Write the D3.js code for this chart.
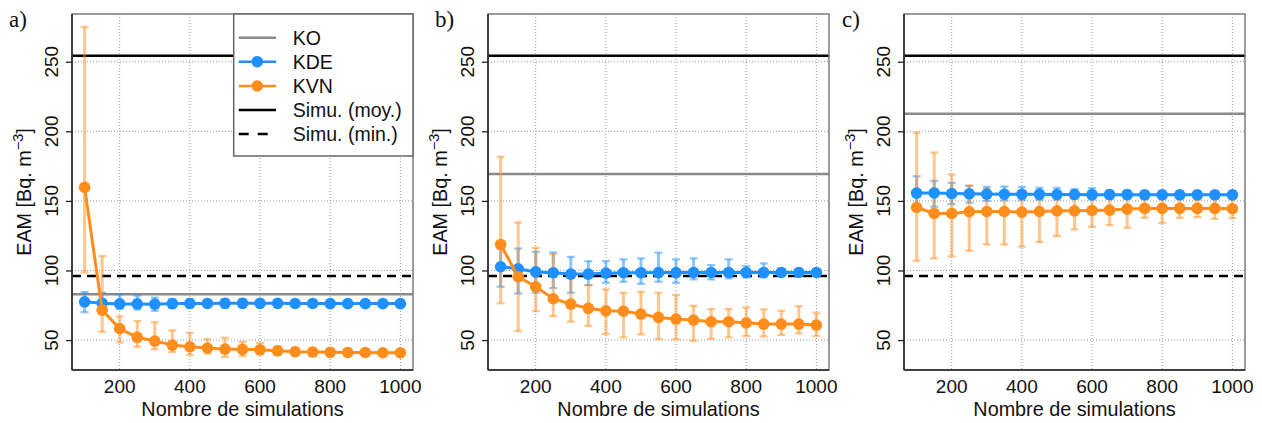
<!DOCTYPE html>
<html><head><meta charset="utf-8">
<script src="https://cdn.jsdelivr.net/npm/d3@7"></script>
<style>body{margin:0;background:#fff}svg{display:block}</style>
</head><body><div id="chart"></div>
<script>
// ---- data ----
const nSim = [100,150,200,250,300,350,400,450,500,550,600,650,700,750,800,850,900,950,1000];
const xTicks = [200,400,600,800,1000];
const yTicks = [50,100,150,200,250];
const simuMoy = 254.3;
const simuMin = 96;
const koValues = [83, 169.3, 212.6];

const kdeA   = [77.5,76.5,76,76,75.8,76.2,76.3,76.3,76.4,76.4,76.4,76.4,76.3,76.3,76.2,76.2,76.2,76.2,76.2];
const kdeAlo = [70,71,72.5,72,71,73,73.5,74,73.5,74,74,74,74.3,74.5,74.5,74.5,74.5,74.5,74.5];
const kdeAhi = [84.5,84,83,82,80.5,79.5,79.5,78.8,79.5,79.5,79,78.8,78.5,78.3,78,78,78,78,78];
const kvnA   = [159.7,71.5,58.2,52,49.3,46.4,45.2,44.3,43.5,43.3,43.1,42.3,41.6,41.4,41.2,41.1,41.1,40.9,40.9];
const kvnAlo = [98.6,56,48.3,45.2,43.4,41.4,39.3,40.3,37.9,38.4,39.6,39.5,39,39,38.8,39,39,38.8,38.8];
const kvnAhi = [275,110.3,67,63.7,62.8,57,55.3,50.7,51.7,48.8,48,45.5,44.5,44,43.8,43.5,43.5,43.2,43.2];

const kdeB   = [102.7,101.2,99,98.4,97.4,97.4,98.1,98.4,98.4,98.5,98.5,98.6,98.6,98.6,98.6,98.6,98.6,98.6,98.6];
const kdeBlo = [88.3,83.5,84,87.4,84,89.5,91.2,91.9,90.4,91.9,91.2,93.6,93.6,94.3,95,95,96,96.5,96.5];
const kdeBhi = [115.6,115.8,113.4,113,109.8,106.7,106.7,108,108.7,112.8,108,108.7,103.9,108,103.2,105.1,101.2,100.8,100.7];
const kvnB   = [118.7,95.5,88.3,79.7,75.9,72.8,71,70.8,68.7,66.3,65.1,64.4,63.2,63.2,62.4,61.5,61.5,61.5,60.8];
const kvnBlo = [76.4,56.5,70.8,67.2,63.2,60.3,54.3,51.9,54.1,50.7,50.5,49.5,50.9,51.9,52.9,52.6,53.6,54.8,52.9];
const kvnBhi = [181.7,134.5,116.3,111.8,97.9,89.5,86.4,84,84.7,84,82.3,74.6,72.3,72.3,73.4,72.1,71.1,74.4,69.6];

const kdeC   = [155.6,155.7,155.3,155.1,154.9,154.8,154.8,154.7,154.6,154.6,154.5,154.5,154.5,154.4,154.4,154.4,154.4,154.4,154.4];
const kdeClo = [143.5,145.8,147.7,148.7,149.9,150.4,150.5,150.8,150.8,151.5,151,151.5,151.5,151.8,151.8,152,152,152,152];
const kdeChi = [167.7,164.4,163,160.8,160.1,160.3,160,159.4,159.4,158.5,159.2,157.5,157.5,157.2,157.2,157,157,157,157];
const kvnC   = [145.3,141,141,142.2,142.4,142.4,142,142.4,142.9,142.9,143.1,143.4,144.1,144.6,144.6,144.6,144.6,144.6,144.4];
const kvnClo = [107,108.7,110.1,114.2,118.7,118.7,117.2,120.4,124.7,129.5,131.4,132.6,130.7,137.9,134.1,137.9,138.4,137.1,137.6];
const kvnChi = [199,184.8,169,161.1,158.8,156.6,153.4,155,155,153.4,153.8,152.5,152.5,151.3,152,151.3,150.8,151.5,151.2];

const panelLabels = ['a)','b)','c)'];
const legendLabels = ['KO','KDE','KVN','Simu. (moy.)','Simu. (min.)'];

// ---- layout ----
const W = 1262, H = 423;
const colBlue = '#1E90FF', colOrange = '#FF8D1C', colKO = '#8a8a8a';
const sans = '"Liberation Sans", Arial, Helvetica, sans-serif';
const serif = '"Liberation Serif", "Times New Roman", serif';
const panelLeft = [72, 488, 904];
const labelX = [9, 435, 842];
const pw = 341, plotTop = 14, plotBottom = 370;

const svg = d3.select('#chart').append('svg').attr('width', W).attr('height', H);

const panels = [
  {kde:kdeA, kdeLo:kdeAlo, kdeHi:kdeAhi, kvn:kvnA, kvnLo:kvnAlo, kvnHi:kvnAhi},
  {kde:kdeB, kdeLo:kdeBlo, kdeHi:kdeBhi, kvn:kvnB, kvnLo:kvnBlo, kvnHi:kvnBhi},
  {kde:kdeC, kdeLo:kdeClo, kdeHi:kdeChi, kvn:kvnC, kvnLo:kvnClo, kvnHi:kvnChi}
];

panels.forEach((p, i) => {
  const L = panelLeft[i], R = L + pw;
  const x = d3.scaleLinear().domain([64, 1036]).range([L, R]);
  const y = d3.scaleLinear().domain([28.5, 284.3]).range([plotBottom, plotTop]);
  const g = svg.append('g');

  // grid
  g.append('g').selectAll('line').data(xTicks).join('line')
    .attr('x1', d => x(d)).attr('x2', d => x(d)).attr('y1', plotTop).attr('y2', plotBottom)
    .attr('stroke', '#9a9a9a').attr('stroke-width', 1).attr('stroke-dasharray', '1,2');
  g.append('g').selectAll('line').data(yTicks).join('line')
    .attr('y1', d => y(d)).attr('y2', d => y(d)).attr('x1', L).attr('x2', R)
    .attr('stroke', '#9a9a9a').attr('stroke-width', 1).attr('stroke-dasharray', '1,2');

  // reference lines
  g.append('line').attr('x1', L).attr('x2', R).attr('y1', y(koValues[i])).attr('y2', y(koValues[i]))
    .attr('stroke', colKO).attr('stroke-width', 2.5);
  g.append('line').attr('x1', L).attr('x2', R).attr('y1', y(simuMoy)).attr('y2', y(simuMoy))
    .attr('stroke', '#000').attr('stroke-width', 2.5);
  g.append('line').attr('x1', L).attr('x2', R).attr('y1', y(simuMin)).attr('y2', y(simuMin))
    .attr('stroke', '#000').attr('stroke-width', 2.5).attr('stroke-dasharray', '9,6');

  const series = [
    {v:p.kde, lo:p.kdeLo, hi:p.kdeHi, c:colBlue},
    {v:p.kvn, lo:p.kvnLo, hi:p.kvnHi, c:colOrange}
  ];
  // error bars
  series.forEach(s => {
    const eg = g.append('g').attr('stroke', s.c).attr('stroke-opacity', 0.5).attr('stroke-width', 3);
    nSim.forEach((n, k) => {
      const cx = x(n);
      eg.append('line').attr('x1', cx).attr('x2', cx).attr('y1', y(s.lo[k])).attr('y2', y(s.hi[k]));
      eg.append('line').attr('x1', cx-4).attr('x2', cx+4).attr('y1', y(s.lo[k])).attr('y2', y(s.lo[k])).attr('stroke-width', 2.2);
      eg.append('line').attr('x1', cx-4).attr('x2', cx+4).attr('y1', y(s.hi[k])).attr('y2', y(s.hi[k])).attr('stroke-width', 2.2);
    });
  });
  // lines and points
  series.forEach(s => {
    const line = d3.line().x((d, k) => x(nSim[k])).y(d => y(d));
    g.append('path').datum(s.v).attr('d', line).attr('fill', 'none')
      .attr('stroke', s.c).attr('stroke-width', 3);
    g.append('g').selectAll('circle').data(s.v).join('circle')
      .attr('cx', (d, k) => x(nSim[k])).attr('cy', d => y(d)).attr('r', 5.8).attr('fill', s.c);
  });

  // box
  g.append('rect').attr('x', L).attr('y', plotTop).attr('width', pw).attr('height', plotBottom - plotTop)
    .attr('fill', 'none').attr('stroke', '#7a7a7a').attr('stroke-width', 1.5);

  // axes
  const ya = g.append('g').attr('transform', `translate(${L},0)`)
    .call(d3.axisLeft(y).tickValues(yTicks).tickSize(6).tickSizeOuter(0).tickFormat(''));
  ya.select('.domain').attr('d', `M0,${plotTop}V${plotBottom}`).attr('stroke', '#222').attr('stroke-width', 1.5);
  ya.selectAll('.tick line').attr('stroke', '#222').attr('stroke-width', 1.3);
  const xa = g.append('g').attr('transform', `translate(0,${plotBottom})`)
    .call(d3.axisBottom(x).tickValues(xTicks).tickSize(0).tickSizeOuter(0).tickFormat(''));
  xa.select('.domain').attr('d', `M${L},0H${R}`).attr('stroke', '#222').attr('stroke-width', 1.5);

  // tick labels
  g.append('g').selectAll('text').data(yTicks).join('text')
    .attr('transform', d => `translate(${L - 14},${y(d)}) rotate(-90)`)
    .attr('text-anchor', 'middle').attr('font-family', sans).attr('font-size', 19).attr('fill', '#111')
    .text(d => d);
  g.append('g').selectAll('text').data(xTicks).join('text')
    .attr('x', d => x(d)).attr('y', 393)
    .attr('text-anchor', 'middle').attr('font-family', sans).attr('font-size', 19).attr('fill', '#111')
    .text(d => d);

  // axis titles
  g.append('text').attr('x', (L + R) / 2).attr('y', 416).attr('text-anchor', 'middle')
    .attr('font-family', sans).attr('font-size', 19.8).attr('fill', '#111').text('Nombre de simulations');
  const yt = g.append('text').attr('transform', `translate(${L - 41},${(plotTop + plotBottom) / 2}) rotate(-90)`)
    .attr('text-anchor', 'middle').attr('font-family', sans).attr('font-size', 19.8).attr('fill', '#111');
  yt.append('tspan').text('EAM [Bq. m');
  yt.append('tspan').attr('font-size', 14.5).attr('dy', -8).text('\u22123');
  yt.append('tspan').attr('dy', 8).text(']');

  // panel label
  g.append('text').attr('x', labelX[i]).attr('y', 27).attr('font-family', serif)
    .attr('font-size', 23).attr('fill', '#111').text(panelLabels[i]);

  // legend in panel a
  if (i === 0) {
    const lx = 233.7, lw = R - lx, lh = 142;
    const lg = g.append('g');
    lg.append('rect').attr('x', lx).attr('y', plotTop).attr('width', lw).attr('height', lh)
      .attr('fill', '#fff').attr('stroke', '#666').attr('stroke-width', 1.5);
    const rows = [37.7, 61.7, 86, 109.9, 134];
    const styles = [
      {c:colKO, dash:null, pt:false},
      {c:colBlue, dash:null, pt:true},
      {c:colOrange, dash:null, pt:true},
      {c:'#000', dash:null, pt:false},
      {c:'#000', dash:'10,9', pt:false}
    ];
    legendLabels.forEach((t, k) => {
      const s = styles[k];
      const ln = lg.append('line').attr('x1', 238.7).attr('x2', 276).attr('y1', rows[k]).attr('y2', rows[k])
        .attr('stroke', s.c).attr('stroke-width', 2.5);
      if (s.dash) ln.attr('stroke-dasharray', s.dash);
      if (s.pt) lg.append('circle').attr('cx', 257.3).attr('cy', rows[k]).attr('r', 5.8).attr('fill', s.c);
      lg.append('text').attr('x', 292.7).attr('y', rows[k] + 7).attr('font-family', sans)
        .attr('font-size', 19.5).attr('fill', '#111').text(t);
    });
  }
});
</script></body></html>
